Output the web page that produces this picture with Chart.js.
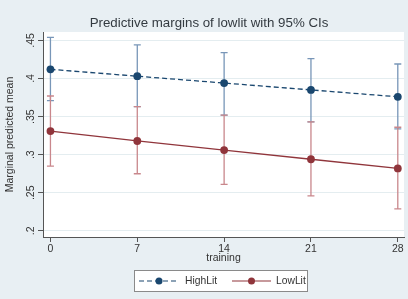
<!DOCTYPE html>
<html>
<head>
<meta charset="utf-8">
<script src="https://cdn.jsdelivr.net/npm/chart.js@4/dist/chart.umd.min.js"></script>
<style>
  html, body { margin: 0; padding: 0; background: #e8eff3; }
  #wrap { width: 408px; height: 299px; }
</style>
</head>
<body>
<div id="wrap"><canvas id="marginsChart" width="408" height="299"></canvas></div>
<script>
// ── data ─────────────────────────────────────────────────────────────────
const training   = [0, 7, 14, 21, 28];
const highLit    = [0.412, 0.403, 0.394, 0.385, 0.376];
const highLitLo  = [0.371, 0.363, 0.352, 0.343, 0.334];
const highLitHi  = [0.454, 0.444, 0.434, 0.426, 0.419];
const lowLit     = [0.331, 0.318, 0.306, 0.294, 0.282];
const lowLitLo   = [0.285, 0.275, 0.261, 0.246, 0.229];
const lowLitHi   = [0.377, 0.363, 0.352, 0.343, 0.336];
const yTicks     = [0.2, 0.25, 0.3, 0.35, 0.4, 0.45];
const xTicks     = [0, 7, 14, 21, 28];

const navy = '#1a476f', navyCI = '#7896b8';
const maroon = '#90353b', maroonCI = '#c9878c';
const txt = '#333333';
const FONT = 'Arial, "Liberation Sans", sans-serif';

const fmt = v => { const s = (+v.toFixed(2)).toString(); return s.replace(/^0\./, '.'); };

// ── plugin: backgrounds, error bars, rotated y labels, title, legend ─────
const stataLook = {
  id: 'stataLook',
  beforeDraw(chart) {
    const { ctx, chartArea: a } = chart;
    ctx.save();
    ctx.fillStyle = '#e8eff3';
    ctx.fillRect(0, 0, chart.width, chart.height);
    ctx.fillStyle = '#ffffff';
    ctx.fillRect(a.left, a.top, a.right - a.left, a.bottom - a.top);
    ctx.restore();
  },
  beforeDatasetsDraw(chart) {
    const { ctx, scales: { x, y } } = chart;
    const bars = [
      { lo: highLitLo, hi: highLitHi, color: navyCI },
      { lo: lowLitLo,  hi: lowLitHi,  color: maroonCI }
    ];
    ctx.save();
    ctx.lineWidth = 1.3;
    bars.forEach(b => {
      ctx.strokeStyle = b.color;
      training.forEach((t, i) => {
        const px = x.getPixelForValue(t);
        const y0 = y.getPixelForValue(b.lo[i]);
        const y1 = y.getPixelForValue(b.hi[i]);
        ctx.beginPath();
        ctx.moveTo(px, y0); ctx.lineTo(px, y1);
        ctx.moveTo(px - 3.5, y0); ctx.lineTo(px + 3.5, y0);
        ctx.moveTo(px - 3.5, y1); ctx.lineTo(px + 3.5, y1);
        ctx.stroke();
      });
    });
    ctx.restore();
  },
  afterDraw(chart) {
    const { ctx, scales: { y } } = chart;
    ctx.save();
    // y tick labels, rotated like Stata
    ctx.fillStyle = txt;
    ctx.font = '10.5px ' + FONT;
    ctx.textAlign = 'center';
    ctx.textBaseline = 'middle';
    yTicks.forEach(v => {
      const py = y.getPixelForValue(v);
      ctx.save();
      ctx.translate(31, py);
      ctx.rotate(-Math.PI / 2);
      ctx.fillText(fmt(v), 0, 0);
      ctx.restore();
    });
    // title
    ctx.font = '13.3px ' + FONT;
    ctx.fillStyle = '#333a40';
    ctx.fillText('Predictive margins of lowlit with 95% CIs', 209, 23);
    // legend
    const lx = 134, ly = 270, lw = 173, lh = 21;
    ctx.fillStyle = '#ffffff';
    ctx.fillRect(lx, ly, lw, lh);
    ctx.strokeStyle = '#8a8a8a';
    ctx.lineWidth = 1;
    ctx.strokeRect(lx + 0.5, ly + 0.5, lw, lh);
    const cy = ly + lh / 2 + 0.5;
    const items = [
      { ds: chart.data.datasets[0], x0: 139, x1: 179, tx: 185 },
      { ds: chart.data.datasets[1], x0: 232, x1: 271, tx: 276 }
    ];
    items.forEach(it => {
      ctx.strokeStyle = it.ds.borderColor;
      ctx.lineWidth = 1.2;
      ctx.setLineDash(it.ds.borderDash || []);
      ctx.beginPath();
      ctx.moveTo(it.x0, cy); ctx.lineTo(it.x1, cy);
      ctx.stroke();
      ctx.setLineDash([]);
      ctx.fillStyle = it.ds.borderColor;
      ctx.beginPath();
      ctx.arc((it.x0 + it.x1) / 2, cy, 3.5, 0, Math.PI * 2);
      ctx.fill();
      ctx.fillStyle = txt;
      ctx.font = '10.3px ' + FONT;
      ctx.textAlign = 'left';
      ctx.fillText(it.ds.label, it.tx, cy);
    });
    ctx.restore();
  }
};

new Chart(document.getElementById('marginsChart'), {
  type: 'line',
  data: {
    datasets: [
      {
        label: 'HighLit',
        data: training.map((t, i) => ({ x: t, y: highLit[i] })),
        borderColor: navy, backgroundColor: navy,
        borderWidth: 1.3, borderDash: [5, 3],
        pointRadius: 3.9, pointBorderWidth: 0, tension: 0
      },
      {
        label: 'LowLit',
        data: training.map((t, i) => ({ x: t, y: lowLit[i] })),
        borderColor: maroon, backgroundColor: maroon,
        borderWidth: 1.3,
        pointRadius: 3.9, pointBorderWidth: 0, tension: 0
      }
    ]
  },
  plugins: [stataLook],
  options: {
    responsive: false,
    animation: false,
    layout: { padding: { left: 0, top: 32, right: 4, bottom: 35 } },
    plugins: { legend: { display: false }, title: { display: false }, tooltip: { enabled: false } },
    scales: {
      x: {
        type: 'linear', min: -0.6, max: 28.5,
        afterBuildTicks: s => { s.ticks = xTicks.map(v => ({ value: v })); },
        afterFit: s => { s.height = 27; },
        ticks: { color: txt, font: { size: 10.5, family: FONT }, padding: 1, maxRotation: 0 },
        grid: { drawOnChartArea: false, drawTicks: true, tickLength: 5, tickColor: '#555' },
        border: { color: '#555', width: 1 },
        title: { display: true, text: 'training', color: txt, font: { size: 10.5, family: FONT }, padding: { top: 0, bottom: 0 } }
      },
      y: {
        min: 0.192, max: 0.461,
        afterBuildTicks: s => { s.ticks = yTicks.map(v => ({ value: v })); },
        afterFit: s => { s.width = 43; },
        ticks: { color: 'rgba(0,0,0,0)', font: { size: 11, family: FONT }, callback: v => fmt(v) },
        grid: { color: '#e4edf0', drawTicks: true, tickLength: 5, tickColor: '#555' },
        border: { color: '#555', width: 1 },
        title: { display: true, text: 'Marginal predicted mean', color: txt, font: { size: 10.5, family: FONT }, padding: { top: 4, bottom: 0 } }
      }
    }
  }
});
</script>
</body>
</html>
